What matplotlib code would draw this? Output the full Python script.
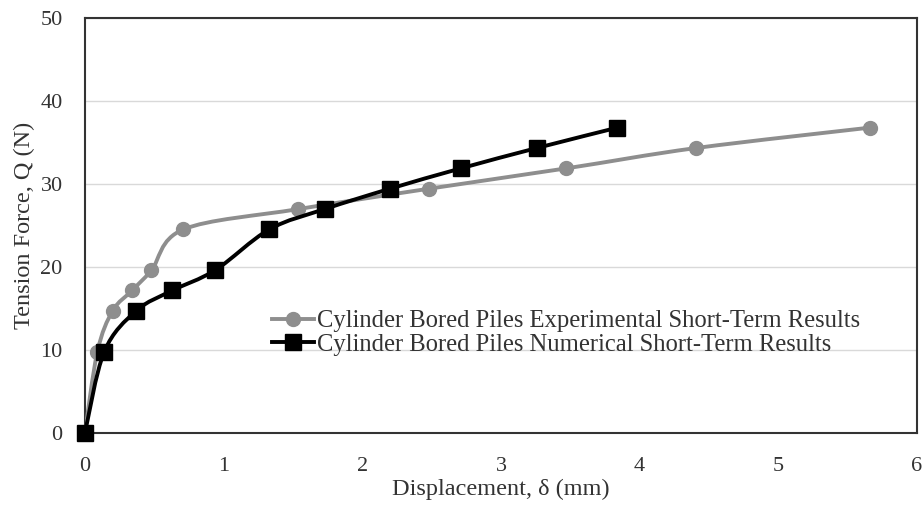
import numpy as np
import matplotlib
matplotlib.use("Agg")
import matplotlib.pyplot as plt
from matplotlib.path import Path
from matplotlib.patches import PathPatch
from matplotlib.lines import Line2D

# Data
load_N = [0, 9.81, 14.72, 17.17, 19.62, 24.53, 26.98, 29.43, 31.88, 34.34, 36.79]
exp_disp = [0, 0.09, 0.20, 0.34, 0.48, 0.71, 1.54, 2.48, 3.47, 4.41, 5.66]
num_disp = [0, 0.14, 0.37, 0.63, 0.94, 1.33, 1.73, 2.20, 2.71, 3.26, 3.84]
x_ticks = [0, 1, 2, 3, 4, 5, 6]
y_ticks = [0, 10, 20, 30, 40, 50]
exp_label = "Cylinder Bored Piles Experimental Short-Term Results"
num_label = "Cylinder Bored Piles Numerical Short-Term Results"

plt.rcParams['font.family'] = ['Liberation Serif', 'DejaVu Serif']

fig = plt.figure(figsize=(9.23, 5.07), dpi=100)
ax = fig.add_axes([0.092, 0.146, 0.9015, 0.8185])


def smooth_path(xs, ys):
    pts = np.column_stack([xs, ys]).astype(float)
    n = len(pts)
    verts = [pts[0]]
    codes = [Path.MOVETO]
    for i in range(n - 1):
        p0 = pts[i - 1] if i > 0 else pts[i]
        p1 = pts[i]
        p2 = pts[i + 1]
        p3 = pts[i + 2] if i + 2 < n else pts[i + 1]
        c1 = p1 + (p2 - p0) / 6.0
        c2 = p2 - (p3 - p1) / 6.0
        verts += [c1, c2, p2]
        codes += [Path.CURVE4] * 3
    return Path(verts, codes)


gray = '#8e8e8e'
txt = '#333333'
ax.add_patch(PathPatch(smooth_path(exp_disp, load_N), facecolor='none',
                       edgecolor=gray, lw=2.8, zorder=3))
ax.plot(exp_disp, load_N, linestyle='none', marker='o', markersize=10,
        color=gray, zorder=4, clip_on=False)
ax.add_patch(PathPatch(smooth_path(num_disp, load_N), facecolor='none',
                       edgecolor='black', lw=2.8, zorder=5))
ax.plot(num_disp, load_N, linestyle='none', marker='s', markersize=11,
        color='black', zorder=6, clip_on=False)

ax.set_xlim(x_ticks[0], x_ticks[-1])
ax.set_ylim(y_ticks[0], y_ticks[-1])
ax.set_xticks(x_ticks)
ax.set_yticks(y_ticks)
ax.tick_params(axis='both', length=0, labelsize=16, colors=txt)
ax.tick_params(axis='x', pad=17)
ax.tick_params(axis='y', pad=16)
ax.grid(axis='y', color='#d9d9d9', lw=1)
ax.set_axisbelow(True)
for s in ax.spines.values():
    s.set_color(txt)
    s.set_linewidth(1.5)

ax.set_xlabel('Displacement, δ (mm)', fontsize=17.5, color=txt, labelpad=2)
ax.set_ylabel('Tension Force, Q (N)', fontsize=17.5, color=txt, labelpad=4)

handles = [
    Line2D([], [], color=gray, lw=2.8, marker='o', markersize=10),
    Line2D([], [], color='black', lw=2.8, marker='s', markersize=11),
]
leg = ax.legend(handles, [exp_label, num_label], loc='center left',
                bbox_to_anchor=(0.2127, 0.241), frameon=False, fontsize=17.7,
                handlelength=1.72, handletextpad=0.14, labelspacing=0.05,
                borderaxespad=0)
for t in leg.get_texts():
    t.set_color(txt)

fig.savefig('out.png', dpi=100)
